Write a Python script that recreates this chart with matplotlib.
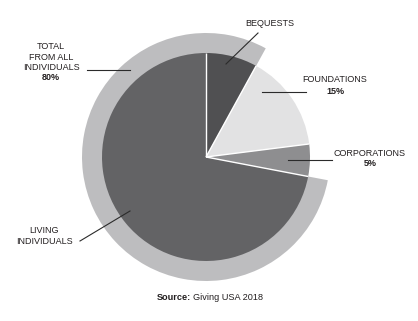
import matplotlib
matplotlib.use('Agg')

import matplotlib.pyplot as plt
import numpy as np

# shares of giving (percent), clockwise from 12 o'clock
categories = ["BEQUESTS", "FOUNDATIONS", "CORPORATIONS", "LIVING\nINDIVIDUALS"]
shares = [8, 15, 5, 72]
colors = ["#505052", "#e2e2e3", "#8e8e90", "#636365"]
total_label = "TOTAL\nFROM ALL\nINDIVIDUALS"
total_pct = "80%"
pct_labels = ["", "15%", "5%", ""]

W, H = 418, 321
plt.rcParams['font.family'] = ['Liberation Sans', 'DejaVu Sans']
txt = "#231f20"

fig = plt.figure(figsize=(W / 100, H / 100), dpi=100)
ax = fig.add_axes([0, 0, 1, 1])

def Y(y):
    # image y (top-down) -> axes y
    return H - y

cx, cy = 206, Y(157)
r_in, r_out = 104, 124

# outer ring: living + bequests together
start = 90 - shares[0] * 3.6
ring = [shares[1] + shares[2], shares[3] + shares[0]]
ax.pie(ring, colors=["none", "#bdbdbf"], startangle=start, counterclock=False,
       center=(cx, cy), radius=r_out, wedgeprops=dict(linewidth=0))

ax.pie(shares, colors=colors, startangle=90, counterclock=False,
       center=(cx, cy), radius=r_in, wedgeprops=dict(linewidth=0))

# white separators between slices (no outline on the rim)
bounds = 90 - np.cumsum([0] + shares[:-1]) * 3.6
for a in np.radians(bounds):
    ax.plot([cx, cx + r_in * np.cos(a)], [cy, cy + r_in * np.sin(a)],
            color="white", lw=1.0, solid_capstyle='butt')

ax.set_xlim(0, W)
ax.set_ylim(0, H)
ax.set_aspect('auto')
ax.axis('off')

fs = 6.5
lc = "#2b2b2b"
lw = 0.8

# BEQUESTS
ax.text(270, Y(24), categories[0], ha='center', va='center', fontsize=fs, color=txt)
ax.plot([258, 226], [Y(33), Y(64)], color=lc, lw=lw)

# FOUNDATIONS
ax.text(335, Y(80), categories[1], ha='center', va='center', fontsize=fs, color=txt)
ax.text(335, Y(91), pct_labels[1], ha='center', va='center', fontsize=fs, color=txt, fontweight='bold')
ax.plot([306, 262], [Y(92), Y(92)], color=lc, lw=lw)

# CORPORATIONS
ax.text(370, Y(153), categories[2], ha='center', va='center', fontsize=fs, color=txt)
ax.text(370, Y(164), pct_labels[2], ha='center', va='center', fontsize=fs, color=txt, fontweight='bold')
ax.plot([332, 288], [Y(160), Y(160)], color=lc, lw=lw)

# TOTAL FROM ALL INDIVIDUALS
ax.text(51, Y(57), total_label, ha='center', va='center', fontsize=fs, color=txt, linespacing=1.15)
ax.text(51, Y(78), total_pct, ha='center', va='center', fontsize=fs, color=txt, fontweight='bold')
ax.plot([87, 130], [Y(70), Y(70)], color=lc, lw=lw)

# LIVING INDIVIDUALS
ax.text(44, Y(236), categories[3], ha='center', va='center', fontsize=fs, color=txt, linespacing=1.15)
ax.plot([80, 130], [Y(241), Y(211)], color=lc, lw=lw)

# source
ax.text(191, Y(297), "Source:", ha='right', va='center', fontsize=6.6, color=txt, fontweight='bold')
ax.text(193, Y(297), "Giving USA 2018", ha='left', va='center', fontsize=6.6, color=txt)

fig.savefig("out.png", dpi=100)
